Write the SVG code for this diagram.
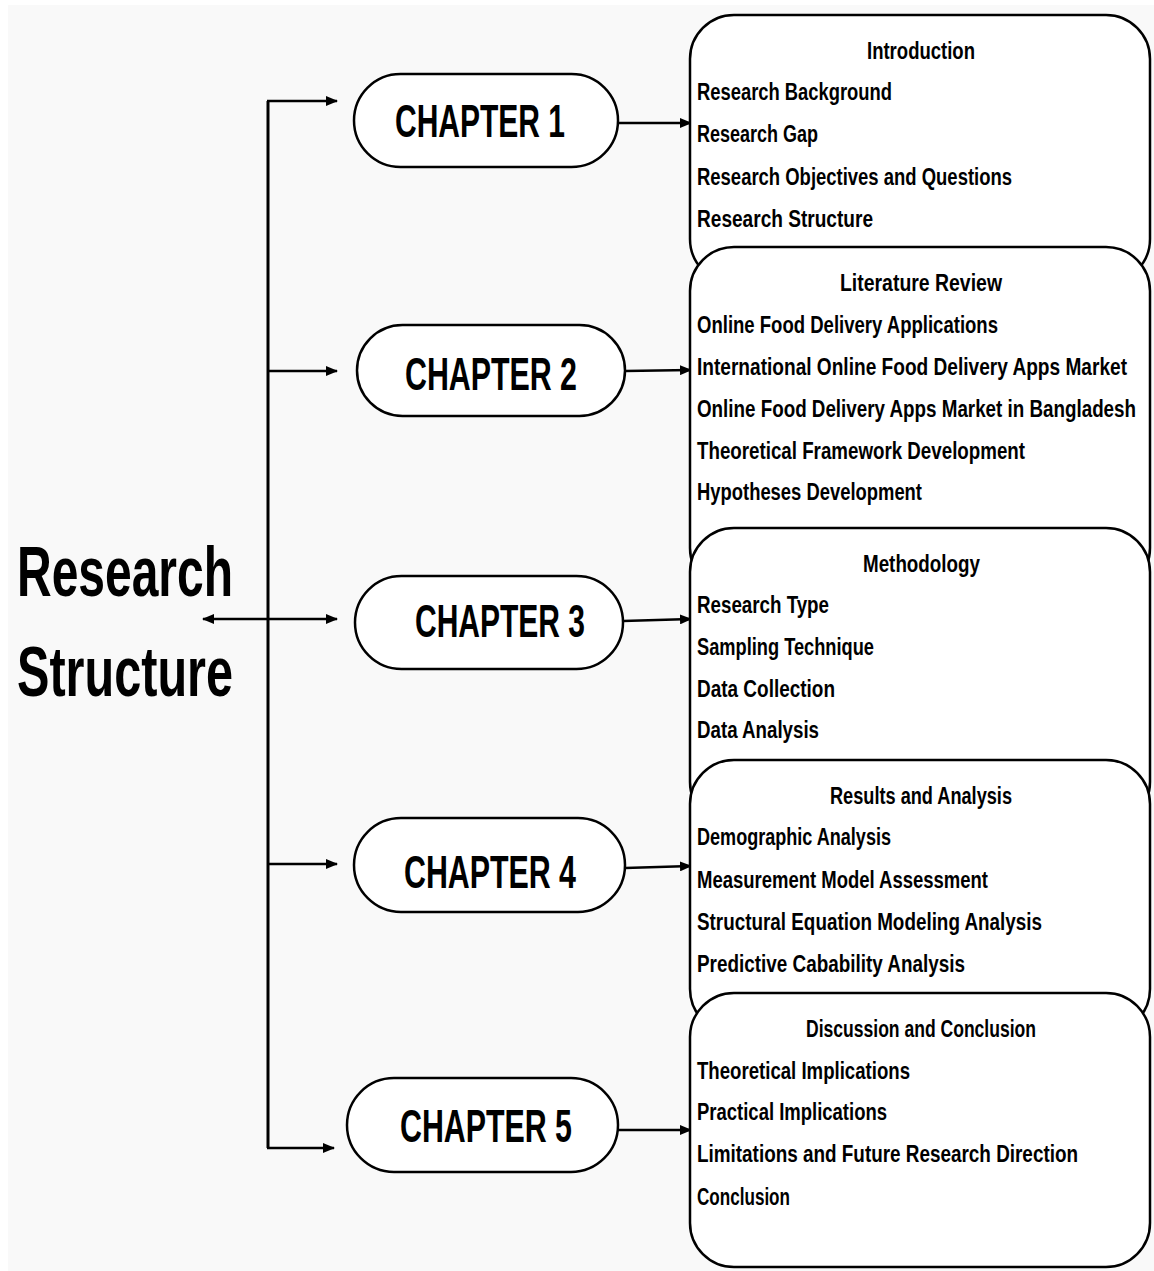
<svg xmlns="http://www.w3.org/2000/svg" width="1154" height="1271" viewBox="0 0 1154 1271">
<style>
.bg{fill:#f9f9f9}
.pill{fill:#fff;stroke:#000;stroke-width:2.5}
.box{fill:#fff;stroke:#000;stroke-width:2.5}
.ch{font-family:"Liberation Sans",Arial,sans-serif;font-weight:bold;font-size:46px;fill:#000}
.t{font-family:"Liberation Sans",Arial,sans-serif;font-weight:bold;font-size:23px;fill:#000}
.ttl{font-family:"Liberation Sans",Arial,sans-serif;font-weight:bold;font-size:71px;fill:#000}
.ln{fill:none;stroke:#000;stroke-width:3}
.ar{fill:none;stroke:#000;stroke-width:2.5;marker-end:url(#ah)}
</style>
<defs>
<marker id="ah" markerUnits="userSpaceOnUse" markerWidth="12" markerHeight="10" refX="11" refY="5" orient="auto">
<path d="M0 0 L12 5 L0 10 Z" fill="#000"/>
</marker>
<marker id="ahs" markerUnits="userSpaceOnUse" markerWidth="12" markerHeight="10" refX="1" refY="5" orient="auto">
<path d="M12 0 L0 5 L12 10 Z" fill="#000"/>
</marker>
</defs>
<rect x="0" y="0" width="1154" height="1271" fill="#fff"/>
<rect class="bg" x="8" y="5" width="1146" height="1266"/>

<g id="title">
<text class="ttl" x="17" y="596" textLength="216" lengthAdjust="spacingAndGlyphs">Research</text>
<text class="ttl" x="17" y="696" textLength="216" lengthAdjust="spacingAndGlyphs">Structure</text>
</g>

<g id="connectors">
<path class="ln" d="M268 101 L268 1148"/>
<path class="ar" d="M267 101 L337 101"/>
<path class="ar" d="M268 371 L337 371"/>
<path class="ar" d="M203 619 L337 619" marker-start="url(#ahs)"/>
<path class="ar" d="M268 864 L337 864"/>
<path class="ar" d="M267 1148 L334 1148"/>
<path class="ar" d="M618 123 L691 123"/>
<path class="ar" d="M625 371 L691 370"/>
<path class="ar" d="M623 621 L691 619"/>
<path class="ar" d="M625 868 L691 866"/>
<path class="ar" d="M618 1130 L691 1130"/>
</g>

<g id="chapter1"><rect class="pill" x="354" y="74" width="264" height="93" rx="46.5"/><text class="ch" x="395" y="137" textLength="170" lengthAdjust="spacingAndGlyphs">CHAPTER 1</text></g>
<g id="chapter2"><rect class="pill" x="357" y="325" width="268" height="91" rx="45.5"/><text class="ch" x="405" y="390" textLength="172" lengthAdjust="spacingAndGlyphs">CHAPTER 2</text></g>
<g id="chapter3"><rect class="pill" x="355" y="576" width="268" height="93" rx="46.5"/><text class="ch" x="415" y="637" textLength="170" lengthAdjust="spacingAndGlyphs">CHAPTER 3</text></g>
<g id="chapter4"><rect class="pill" x="354" y="818" width="271" height="94" rx="47"/><text class="ch" x="404" y="888" textLength="172" lengthAdjust="spacingAndGlyphs">CHAPTER 4</text></g>
<g id="chapter5"><rect class="pill" x="347" y="1078" width="271" height="94" rx="47"/><text class="ch" x="400" y="1142" textLength="172" lengthAdjust="spacingAndGlyphs">CHAPTER 5</text></g>

<g id="box1">
<rect class="box" x="690" y="15" width="460" height="268" rx="44"/>
<text class="t" x="867" y="59" textLength="108" lengthAdjust="spacingAndGlyphs">Introduction</text>
<text class="t" x="697" y="100" textLength="195" lengthAdjust="spacingAndGlyphs">Research Background</text>
<text class="t" x="697" y="142" textLength="121" lengthAdjust="spacingAndGlyphs">Research Gap</text>
<text class="t" x="697" y="185" textLength="315" lengthAdjust="spacingAndGlyphs">Research Objectives and Questions</text>
<text class="t" x="697" y="227" textLength="176" lengthAdjust="spacingAndGlyphs">Research Structure</text>
</g>
<g id="box2">
<rect class="box" x="690" y="247" width="460" height="345" rx="44"/>
<text class="t" x="840" y="291" textLength="162" lengthAdjust="spacingAndGlyphs">Literature Review</text>
<text class="t" x="697" y="333" textLength="301" lengthAdjust="spacingAndGlyphs">Online Food Delivery Applications</text>
<text class="t" x="697" y="375" textLength="430" lengthAdjust="spacingAndGlyphs">International Online Food Delivery Apps Market</text>
<text class="t" x="697" y="417" textLength="439" lengthAdjust="spacingAndGlyphs">Online Food Delivery Apps Market in Bangladesh</text>
<text class="t" x="697" y="459" textLength="328" lengthAdjust="spacingAndGlyphs">Theoretical Framework Development</text>
<text class="t" x="697" y="500" textLength="225" lengthAdjust="spacingAndGlyphs">Hypotheses Development</text>
</g>
<g id="box3">
<rect class="box" x="690" y="528" width="460" height="298" rx="44"/>
<text class="t" x="863" y="572" textLength="117" lengthAdjust="spacingAndGlyphs">Methodology</text>
<text class="t" x="697" y="613" textLength="132" lengthAdjust="spacingAndGlyphs">Research Type</text>
<text class="t" x="697" y="655" textLength="177" lengthAdjust="spacingAndGlyphs">Sampling Technique</text>
<text class="t" x="697" y="697" textLength="138" lengthAdjust="spacingAndGlyphs">Data Collection</text>
<text class="t" x="697" y="738" textLength="122" lengthAdjust="spacingAndGlyphs">Data Analysis</text>
</g>
<g id="box4">
<rect class="box" x="690" y="760" width="460" height="273" rx="44"/>
<text class="t" x="830" y="804" textLength="182" lengthAdjust="spacingAndGlyphs">Results and Analysis</text>
<text class="t" x="697" y="845" textLength="194" lengthAdjust="spacingAndGlyphs">Demographic Analysis</text>
<text class="t" x="697" y="888" textLength="291" lengthAdjust="spacingAndGlyphs">Measurement Model Assessment</text>
<text class="t" x="697" y="930" textLength="345" lengthAdjust="spacingAndGlyphs">Structural Equation Modeling Analysis</text>
<text class="t" x="697" y="972" textLength="268" lengthAdjust="spacingAndGlyphs">Predictive Cabability Analysis</text>
</g>
<g id="box5">
<rect class="box" x="690" y="993" width="460" height="274" rx="44"/>
<text class="t" x="806" y="1037" textLength="230" lengthAdjust="spacingAndGlyphs">Discussion and Conclusion</text>
<text class="t" x="697" y="1079" textLength="213" lengthAdjust="spacingAndGlyphs">Theoretical Implications</text>
<text class="t" x="697" y="1120" textLength="190" lengthAdjust="spacingAndGlyphs">Practical Implications</text>
<text class="t" x="697" y="1162" textLength="381" lengthAdjust="spacingAndGlyphs">Limitations and Future Research Direction</text>
<text class="t" x="697" y="1205" textLength="93" lengthAdjust="spacingAndGlyphs">Conclusion</text>
</g>
</svg>
